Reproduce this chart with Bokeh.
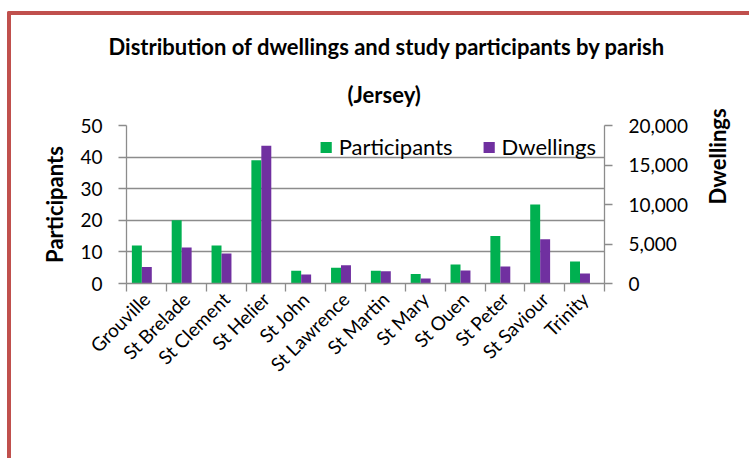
from math import pi

from bokeh.embed import file_html
from bokeh.models import (CategoricalAxis, ColumnDataSource, FixedTicker, LinearAxis,
                          NumeralTickFormatter, Range1d, Title)
from bokeh.plotting import figure
from bokeh.resources import INLINE
from bokeh.transform import dodge

# Parishes of Jersey, study participants and dwelling counts
parishes = ["Grouville", "St Brelade", "St Clement", "St Helier", "St John", "St Lawrence",
            "St Martin", "St Mary", "St Ouen", "St Peter", "St Saviour", "Trinity"]
participants = [12, 20, 12, 39, 4, 5, 4, 3, 6, 15, 25, 7]
dwellings = [2100, 4550, 3790, 17430, 1140, 2320, 1560, 630, 1640, 2150, 5600, 1260]

participant_ticks = [0, 10, 20, 30, 40, 50]
dwelling_ticks = [0, 5000, 10000, 15000, 20000]

GREEN = "#00B050"
PURPLE = "#7030A0"
GRID = "#8C8C8C"
FRAME_RED = "#C0504D"
FONT = "Lato"

source = ColumnDataSource(dict(parish=parishes, participants=participants, dwellings=dwellings))

p = figure(width=742, height=447, x_range=parishes, y_range=Range1d(0, 50),
           x_axis_location=None, y_axis_location="left",
           output_backend="svg", toolbar_location=None,
           min_border_left=115, min_border_right=149, min_border_top=110, min_border_bottom=179)
p.extra_y_ranges = {"dw": Range1d(0, 20000)}
p.outline_line_color = None
p.background_fill_color = "white"
p.border_fill_color = "white"
# red chart-area frame along the top and left edges
p.styles = {"margin-left": "7px", "margin-top": "11px",
            "border-left": f"4px solid {FRAME_RED}", "border-top": f"4px solid {FRAME_RED}",
            "border-top-left-radius": "2px"}

# bars
p.vbar(x=dodge("parish", -0.24, range=p.x_range), top="participants", width=0.25,
       source=source, fill_color=GREEN, line_color=None, legend_label="Participants")
p.vbar(x=dodge("parish", 0.01, range=p.x_range), top="dwellings", width=0.25,
       source=source, fill_color=PURPLE, line_color=None, y_range_name="dw",
       legend_label="Dwellings")


def style_value_axis(ax):
    ax.axis_line_color = GRID
    ax.axis_line_width = 1.3
    ax.major_tick_line_color = GRID
    ax.major_tick_line_width = 1.3
    ax.major_tick_out = 8
    ax.major_tick_in = 0
    ax.minor_tick_line_color = None
    ax.major_label_standoff = 16
    ax.major_label_text_font = FONT
    ax.major_label_text_font_size = "19px"
    ax.major_label_text_color = "black"
    ax.axis_label_text_font = FONT
    ax.axis_label_text_font_style = "bold"
    ax.axis_label_text_font_size = "22px"
    ax.axis_label_text_color = "black"


# left axis (participants)
ya = p.yaxis[0]
ya.ticker = FixedTicker(ticks=participant_ticks)
style_value_axis(ya)
ya.axis_label = "Participants"
ya.axis_label_standoff = 9

p.ygrid.ticker = FixedTicker(ticks=participant_ticks)
p.ygrid.grid_line_color = GRID
p.ygrid.grid_line_width = 1.3
p.xgrid.grid_line_color = None

# right axis (dwellings)
ra = LinearAxis(y_range_name="dw", ticker=FixedTicker(ticks=dwelling_ticks),
                formatter=NumeralTickFormatter(format="0,0"))
style_value_axis(ra)
ra.axis_label = "Dwellings"
ra.axis_label_standoff = 27
if hasattr(ra, "axis_label_orientation"):
    ra.axis_label_orientation = pi / 2
p.add_layout(ra, "right")

# baseline with tick marks on the boundaries between parishes
edges = list(range(len(parishes) + 1))
ea = LinearAxis(ticker=FixedTicker(ticks=edges))
ea.major_label_overrides = {i: "" for i in edges}
ea.axis_line_color = GRID
ea.axis_line_width = 1.3
ea.major_tick_line_color = GRID
ea.major_tick_line_width = 1.3
ea.major_tick_out = 8
ea.major_tick_in = 0
ea.minor_tick_line_color = None
ea.major_label_standoff = 0
p.add_layout(ea, "below")

# parish names
ca = CategoricalAxis()
ca.axis_line_color = None
ca.major_tick_line_color = None
ca.major_tick_out = 0
ca.major_label_orientation = pi / 4
ca.major_label_standoff = 4
ca.major_label_text_font = FONT
ca.major_label_text_font_size = "19px"
ca.major_label_text_color = "black"
p.add_layout(ca, "below")

# two-line title
sub = Title(text="(Jersey)", align="left", offset=221, standoff=36,
            text_font=FONT, text_font_style="bold", text_font_size="22px",
            text_color="black")
p.add_layout(sub, "above")

p.title.text = "Distribution of dwellings and study participants by parish"
p.title.align = "left"
p.title.offset = -18
p.title.standoff = 2
p.title.text_font = FONT
p.title.text_font_style = "bold"
p.title.text_font_size = "22px"
p.title.text_color = "black"

# legend in the empty upper-right part of the plot area
lg = p.legend[0]
lg.location = "top_right"
lg.orientation = "horizontal"
lg.glyph_width = 14
lg.glyph_height = 14
lg.label_standoff = 6
lg.spacing = 29
lg.padding = 0
lg.margin = 8
lg.border_line_color = None
lg.background_fill_alpha = 0
lg.label_text_font = FONT
lg.label_text_font_size = "22px"
lg.label_text_color = "black"

open("out.html", "w").write(file_html(p, INLINE))
